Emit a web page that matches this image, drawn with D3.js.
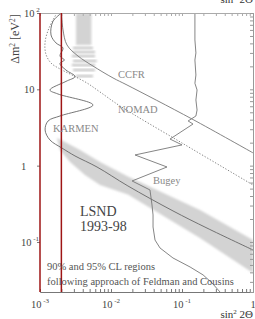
<!DOCTYPE html>
<html>
<head>
<meta charset="utf-8">
<script src="https://cdn.jsdelivr.net/npm/d3@7"></script>
<style>
  body { margin: 0; background: #fff; }
  svg { display: block; }
  text { font-family: "Liberation Serif", "DejaVu Serif", serif; }
</style>
</head>
<body>
<svg id="chart" width="255" height="319"></svg>
<script>
// sin^2 2theta , delta m^2 (eV^2)
var xTicks = [1e-3, 1e-2, 1e-1, 1];
var xTickLabels = [["10", "-3"], ["10", "-2"], ["10", "-1"], ["1", ""]];
var yTicks = [100, 10, 1, 0.1];
var yTickLabels = [["10", "2"], ["10", ""], ["1", ""], ["10", "-1"]];

var ccfr = [[0.00201, 100], [0.00211, 59.9], [0.0024, 38.1], [0.00343, 27.3], [0.00557, 20.2],
            [0.01067, 14.1], [0.0168, 11.4], [0.138, 4.09], [1, 1.47]];

var nomad = [[0.00173, 100], [0.00134, 63.6], [0.00118, 41.7], [0.00121, 29.0], [0.00143, 22.1],
             [0.00191, 18.5], [0.00282, 15.4], [0.00459, 12.1], [0.0070, 9.23], [0.0134, 6.05],
             [0.1, 1.98], [1, 0.558]];

var bugey = [[0.152, 100], [0.152, 44.3], [0.157, 30], [0.152, 24.2], [0.157, 15.4], [0.152, 12],
             [0.163, 9.8], [0.157, 7.25], [0.163, 5.36], [0.157, 4.47], [0.122, 3.85], [0.143, 3.51],
             [0.0678, 2.23], [0.1, 1.87], [0.0218, 1.38], [0.0615, 0.96], [0.0198, 0.63],
             [0.0354, 0.48], [0.0378, 0.305], [0.0391, 0.226], [0.0391, 0.157], [0.0417, 0.106],
             [0.049, 0.0834], [0.0746, 0.0617], [0.130, 0.047], [0.198, 0.037], [0.265, 0.029],
             [0.343, 0.0221]];

var karmen = [[0.00201, 100], [0.00152, 77.4], [0.00143, 51.5], [0.00168, 40.5], [0.00211, 34.8],
              [0.00191, 27.3], [0.00221, 24.2], [0.00191, 21.8], [0.00232, 17.9], [0.00311, 14.7],
              [0.00232, 12.7], [0.00138, 9.8], [0.00179, 8.69], [0.00557, 6.23], [0.00191, 4.47],
              [0.0013, 3.85], [0.00118, 2.93], [0.00138, 2.17], [0.00204, 1.70], [0.00311, 1.34],
              [0.00635, 0.96], [0.0173, 0.542], [0.0747, 0.255], [0.225, 0.152], [1, 0.0785]];

// LSND allowed band, upper and lower edges
var lsndUpper = [[0.00173, 2.30], [0.00225, 2.04], [0.00366, 1.60], [0.0070, 1.12], [0.0173, 0.72],
                 [0.179, 0.263], [1, 0.106]];
var lsndLower = [[0.00191, 1.60], [0.00265, 1.12], [0.0043, 0.755], [0.0070, 0.558], [0.0173, 0.42],
                 [0.179, 0.113], [1, 0.0393]];

// LSND islands at large dm^2 : [sin2 from, sin2 to, dm2 low, dm2 high]
var lsndColumn = [[0.00321, 0.0053, 38, 100]];
var lsndStreaks = [[0.00292, 0.00557, 34.8], [0.00292, 0.00595, 30.8], [0.00281, 0.00595, 27.3],
                   [0.00292, 0.0063, 23.5], [0.00281, 0.00595, 20.8], [0.00292, 0.00595, 17.9],
                   [0.00321, 0.00557, 14.9]];

var redLines = [0.001, 0.002];

var svg = d3.select("#chart");
var x = d3.scaleLog().domain([1e-3, 1]).range([40, 253]);
var y = d3.scaleLog().domain([0.0221, 100]).range([292, 13]);

var defs = svg.append("defs");
defs.append("filter").attr("id", "blur").append("feGaussianBlur").attr("stdDeviation", 0.9);
defs.append("clipPath").attr("id", "plot").append("rect")
    .attr("x", 40).attr("y", 13).attr("width", 213).attr("height", 279);

var plot = svg.append("g").attr("clip-path", "url(#plot)");

var line = d3.line().x(function(d) { return x(d[0]); }).y(function(d) { return y(d[1]); });

// band
var band = lsndUpper.concat(lsndLower.slice().reverse());
plot.append("path")
    .attr("d", line.curve(d3.curveLinearClosed)(band))
    .style("fill", "#d3d3d3")
    .style("filter", "url(#blur)");

plot.selectAll("rect.col").data(lsndColumn).enter().append("rect")
    .attr("x", function(d) { return x(d[0]); })
    .attr("width", function(d) { return x(d[1]) - x(d[0]); })
    .attr("y", function(d) { return y(d[3]); })
    .attr("height", function(d) { return y(d[2]) - y(d[3]); })
    .style("fill", "#c9c9c9")
    .style("opacity", 0.8)
    .style("filter", "url(#blur)");

plot.selectAll("rect.streak").data(lsndStreaks).enter().append("rect")
    .attr("x", function(d) { return x(d[0]); })
    .attr("width", function(d) { return x(d[1]) - x(d[0]); })
    .attr("y", function(d) { return y(d[2]) - 1.2; })
    .attr("height", 2.4)
    .style("fill", "#b8b8b8")
    .style("opacity", 0.8)
    .style("filter", "url(#blur)");

// curves
plot.append("path").attr("d", line.curve(d3.curveCatmullRom)(ccfr))
    .style("fill", "none").style("stroke", "#777").style("stroke-width", 0.9);
plot.append("path").attr("d", line.curve(d3.curveCatmullRom)(nomad))
    .style("fill", "none").style("stroke", "#777").style("stroke-width", 0.9)
    .style("stroke-dasharray", "1.3,1.7");
plot.append("path").attr("d", line.curve(d3.curveLinear)(bugey))
    .style("fill", "none").style("stroke", "#777").style("stroke-width", 0.9);
plot.append("path").attr("d", line.curve(d3.curveCatmullRom)(karmen))
    .style("fill", "none").style("stroke", "#666").style("stroke-width", 0.9);

// frame and minor ticks
var minor = x.ticks();
svg.append("g").attr("transform", "translate(0,292)")
    .call(d3.axisBottom(x).tickValues(minor).tickSize(-3).tickFormat(""))
    .call(function(g) { g.selectAll("line,path").style("stroke", "#777"); });
svg.append("g").attr("transform", "translate(0,13)")
    .call(d3.axisTop(x).tickValues(minor).tickSize(-3).tickFormat(""))
    .call(function(g) { g.selectAll("line,path").style("stroke", "#aaa"); });
svg.append("g").attr("transform", "translate(253,0)")
    .call(d3.axisRight(y).tickValues(y.ticks()).tickSize(-3).tickFormat(""))
    .call(function(g) { g.selectAll("line,path").style("stroke", "#999"); });
svg.append("g").attr("transform", "translate(40,0)")
    .call(d3.axisLeft(y).tickValues(yTicks).tickSize(3).tickFormat(""))
    .call(function(g) { g.selectAll("line").style("stroke", "#777"); g.select("path").remove(); });

// red lines
svg.selectAll("line.red").data(redLines).enter().append("line")
    .attr("x1", function(d) { return x(d); }).attr("x2", function(d) { return x(d); })
    .attr("y1", 13).attr("y2", 292)
    .style("stroke", "#9e1515").style("stroke-width", 1.5);

// tick labels
function powLabel(sel, lab) {
  sel.text(lab[0]);
  if (lab[1]) sel.append("tspan").attr("dy", -5).style("font-size", "7px").text(" " + lab[1]);
}
svg.selectAll("text.xt").data(xTicks).enter().append("text")
    .attr("x", function(d) { return x(d); })
    .attr("y", 308)
    .attr("text-anchor", "middle")
    .style("font-size", "10.5px").style("fill", "#444")
    .each(function(d, i) { powLabel(d3.select(this), xTickLabels[i]); });
svg.selectAll("text.yt").data(yTicks).enter().append("text")
    .attr("x", function(d, i) { return (yTickLabels[i][0] === "1" || yTickLabels[i][1] === "-1") ? 21 : 24; })
    .attr("y", function(d) { return y(d) + 4; })
    .style("font-size", "10.5px").style("fill", "#444")
    .each(function(d, i) { powLabel(d3.select(this), yTickLabels[i]); });

// axis titles
function sinTitle(yPos) {
  var t = svg.append("text").attr("x", 253).attr("y", yPos).attr("text-anchor", "end")
      .style("font-size", "11px").style("fill", "#333").text("sin");
  t.append("tspan").attr("dy", -4).style("font-size", "7px").text("2");
  t.append("tspan").attr("dy", 4).text(" 2Θ");
}
sinTitle(318);
sinTitle(3);

var yt = svg.append("text").attr("transform", "translate(19,39) rotate(-90)")
    .attr("text-anchor", "middle").style("font-size", "12px").style("fill", "#444").text("Δm");
yt.append("tspan").attr("dy", -4).style("font-size", "7.5px").text("2");
yt.append("tspan").attr("dy", 4).text(" [eV");
yt.append("tspan").attr("dy", -4).style("font-size", "7.5px").text("2");
yt.append("tspan").attr("dy", 4).text("]");

// curve labels
var labels = [["CCFR", 118, 78], ["NOMAD", 118, 113], ["KARMEN", 53, 132], ["Bugey", 153, 184]];
svg.selectAll("text.lab").data(labels).enter().append("text")
    .attr("x", function(d) { return d[1]; }).attr("y", function(d) { return d[2]; })
    .style("font-size", "10.5px").style("fill", "#888")
    .text(function(d) { return d[0]; });

svg.append("text").attr("x", 80).attr("y", 216).style("font-size", "14px").style("fill", "#444").text("LSND");
svg.append("text").attr("x", 80).attr("y", 231).style("font-size", "14px").style("fill", "#444").text("1993-98");
svg.append("text").attr("x", 47).attr("y", 270).style("font-size", "10.5px").style("fill", "#555")
    .text("90% and 95% CL regions");
svg.append("text").attr("x", 47).attr("y", 285).style("font-size", "10.5px").style("fill", "#555")
    .text("following approach of Feldman and Cousins");
</script>
</body>
</html>
